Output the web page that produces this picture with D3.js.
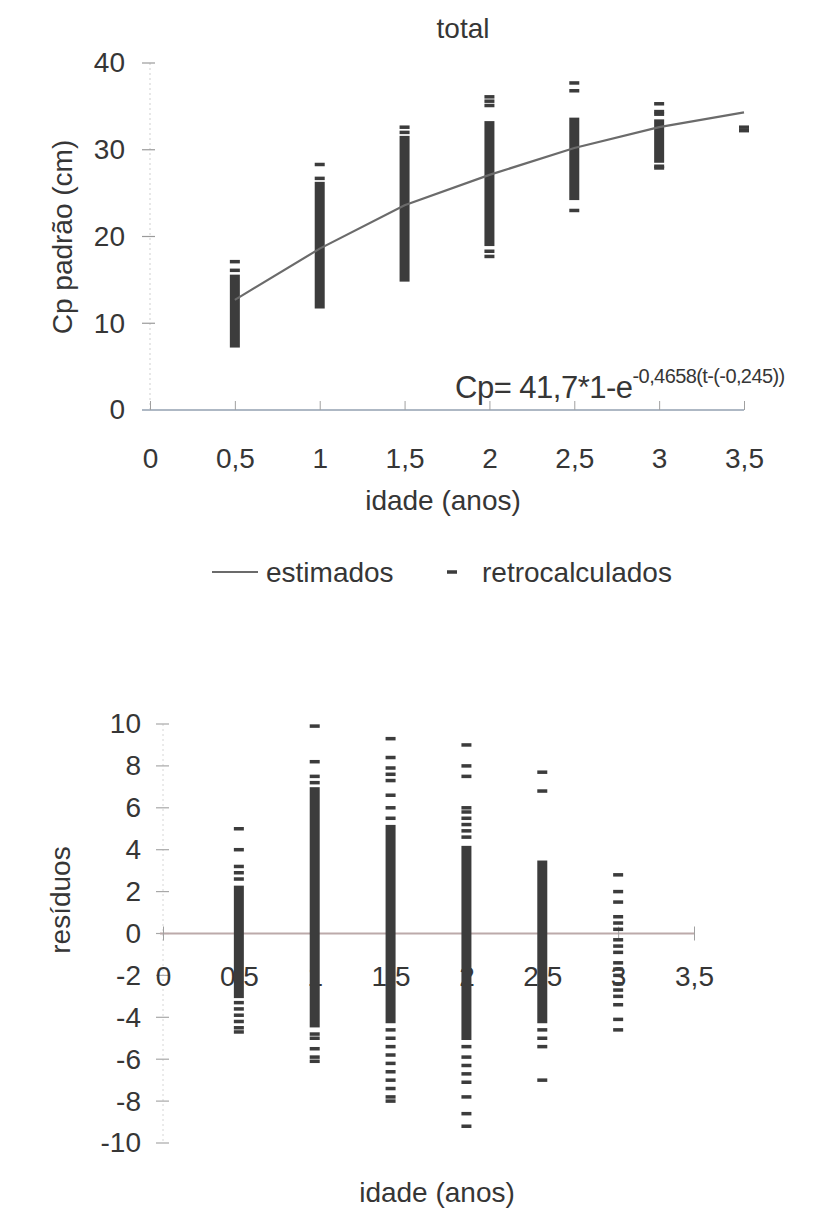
<!DOCTYPE html>
<html>
<head>
<meta charset="utf-8">
<script src="https://cdn.jsdelivr.net/npm/d3@7"></script>
<style>
  body { margin: 0; background: #fff; }
  svg text { font-family: "Liberation Sans", Arial, sans-serif; fill: #363636; }
</style>
</head>
<body>
<svg id="chart" width="818" height="1217"></svg>
<script>
// ages (anos)
const ages = [0.5, 1, 1.5, 2, 2.5, 3, 3.5];

// estimated standard length (von Bertalanffy curve)
const estimados = [12.7, 18.6, 23.6, 27.1, 30.2, 32.6, 34.3];

// back-calculated lengths: dense runs (low / high) and the separate dashes
const retroLo = [7.4, 11.9, 15.0, 19.1, 24.4, 28.7, null];
const retroHi = [15.4, 26.1, 31.4, 33.1, 33.5, 33.3, null];
const retroPts = [
  [16.1, 17.1],
  [26.7, 28.3],
  [32.0, 32.6],
  [17.7, 18.3, 35.1, 35.6, 36.1],
  [23.0, 36.8, 37.7],
  [27.9, 28.1, 34.1, 34.4, 35.3],
  [32.2, 32.6]
];

// residuals
const residAges = [0.5, 1, 1.5, 2, 2.5, 3];
const residLo = [-3.0, -4.4, -4.2, -5.0, -4.2, null];
const residHi = [2.2, 6.9, 5.1, 4.1, 3.4, null];
const residPts = [
  [5.0, 4.0, 3.2, 2.9, 2.6, -3.3, -3.6, -3.9, -4.2, -4.5, -4.7],
  [9.9, 8.2, 7.5, 7.2, -4.8, -5.0, -5.5, -5.9, -6.1],
  [9.3, 8.4, 7.9, 7.6, 7.3, 6.6, 6.0, 5.5, -4.6, -5.0, -5.4, -5.8, -6.2, -6.6, -7.0, -7.4, -7.8, -8.0],
  [9.0, 8.0, 7.5, 6.0, 5.8, 5.5, 5.2, 4.9, 4.6, -5.4, -5.9, -6.3, -6.7, -7.1, -7.8, -8.6, -9.2],
  [7.7, 6.8, -4.6, -5.0, -5.4, -7.0],
  [2.8, 2.0, 1.5, 0.8, 0.5, 0.2, -0.3, -0.6, -0.9, -1.4, -1.7, -2.0, -2.4, -2.7, -3.0, -3.4, -4.1, -4.6]
];

const xTicks = [0, 0.5, 1, 1.5, 2, 2.5, 3, 3.5];
const yTicksTop = [0, 10, 20, 30, 40];
const yTicksBottom = [-10, -8, -6, -4, -2, 0, 2, 4, 6, 8, 10];

const comma = d => String(d).replace(".", ",");
const markColor = "#3c3c3c";
const dashW = 10, dashH = 3.5;

const svg = d3.select("#chart");

// ---------- top chart ----------
const x1 = d3.scaleLinear().domain([0, 3.5]).range([150, 744]);
const y1 = d3.scaleLinear().domain([0, 40]).range([410, 63]);

svg.append("text")
  .attr("x", 463).attr("y", 38)
  .attr("text-anchor", "middle")
  .attr("font-size", 28)
  .text("total");

// y axis (faint dotted line + crossing ticks)
svg.append("line")
  .attr("x1", x1(0)).attr("x2", x1(0))
  .attr("y1", y1(40)).attr("y2", y1(0))
  .attr("stroke", "#cfcfcf").attr("stroke-dasharray", "2,3");

svg.append("g").selectAll("line").data(yTicksTop).join("line")
  .attr("x1", x1(0) - 8).attr("x2", x1(0) + 5)
  .attr("y1", d => y1(d)).attr("y2", d => y1(d))
  .attr("stroke", "#9a9a9a").attr("stroke-width", 1.2);

const yAxisTop = svg.append("g")
  .attr("transform", `translate(${x1(0)},0)`)
  .call(d3.axisLeft(y1).tickValues(yTicksTop).tickSize(0).tickPadding(25).tickFormat(comma));
yAxisTop.select(".domain").remove();
yAxisTop.selectAll("text").attr("font-size", 28).style("font-family", null);

// x axis
const xAxisTop = svg.append("g")
  .attr("transform", `translate(0,${y1(0)})`)
  .call(d3.axisBottom(x1).tickValues(xTicks).tickSizeInner(-9).tickSizeOuter(0).tickPadding(38).tickFormat(comma));
xAxisTop.select(".domain").attr("stroke", "#aeb8c4").attr("stroke-width", 2).attr("d", `M${x1(0) - 8},0H${x1(3.5)}`);
xAxisTop.selectAll(".tick line").attr("stroke", "#a0a0a0");
xAxisTop.selectAll("text").attr("font-size", 28).style("font-family", null);

svg.append("text")
  .attr("transform", "translate(72,237) rotate(-90)")
  .attr("text-anchor", "middle")
  .attr("font-size", 28)
  .text("Cp padrão (cm)");

svg.append("text")
  .attr("x", 443).attr("y", 510)
  .attr("text-anchor", "middle")
  .attr("font-size", 28)
  .text("idade (anos)");

// retrocalculados: dense runs
const topIdx = d3.range(ages.length).filter(i => retroLo[i] != null);
svg.append("g").selectAll("rect").data(topIdx).join("rect")
  .attr("x", i => x1(ages[i]) - dashW / 2)
  .attr("y", i => y1(retroHi[i]) - dashH / 2)
  .attr("width", dashW)
  .attr("height", i => y1(retroLo[i]) - y1(retroHi[i]) + dashH)
  .attr("fill", markColor);

// retrocalculados: separate dashes
const topPts = ages.flatMap((a, i) => retroPts[i].map(v => ({ age: a, v })));
svg.append("g").selectAll("rect").data(topPts).join("rect")
  .attr("x", d => x1(d.age) - dashW / 2)
  .attr("y", d => y1(d.v) - dashH / 2)
  .attr("width", dashW).attr("height", dashH)
  .attr("fill", markColor);

// estimados curve
svg.append("path")
  .datum(ages.map((a, i) => [a, estimados[i]]))
  .attr("fill", "none")
  .attr("stroke", "#6b6b6b")
  .attr("stroke-width", 2.2)
  .attr("d", d3.line().x(d => x1(d[0])).y(d => y1(d[1])));

// equation
const eq = svg.append("text")
  .attr("x", 455).attr("y", 398)
  .attr("font-size", 31)
  .attr("letter-spacing", -0.5);
eq.append("tspan").text("Cp= 41,7*1-e");
eq.append("tspan").attr("dy", -15).attr("font-size", 20).attr("letter-spacing", -0.6).text("-0,4658(t-(-0,245))");

// legend
svg.append("line")
  .attr("x1", 212).attr("x2", 258).attr("y1", 572).attr("y2", 572)
  .attr("stroke", "#6b6b6b").attr("stroke-width", 2);
svg.append("text").attr("x", 266).attr("y", 582).attr("font-size", 28).text("estimados");
svg.append("rect")
  .attr("x", 452 - dashW / 2).attr("y", 572 - dashH / 2)
  .attr("width", dashW).attr("height", dashH)
  .attr("fill", markColor);
svg.append("text").attr("x", 482).attr("y", 582).attr("font-size", 28).text("retrocalculados");

// ---------- bottom chart (residuos) ----------
const x2 = d3.scaleLinear().domain([0, 3.5]).range([163, 694]);
const y2 = d3.scaleLinear().domain([-10, 10]).range([1143, 724]);

svg.append("line")
  .attr("x1", x2(0)).attr("x2", x2(0))
  .attr("y1", y2(10)).attr("y2", y2(-10))
  .attr("stroke", "#d6d6d6").attr("stroke-dasharray", "2,3");

svg.append("g").selectAll("line").data(yTicksBottom).join("line")
  .attr("x1", x2(0) - 7).attr("x2", x2(0) + 6)
  .attr("y1", d => y2(d)).attr("y2", d => y2(d))
  .attr("stroke", "#a8a8a8").attr("stroke-width", 1.2);

const yAxisBot = svg.append("g")
  .attr("transform", `translate(${x2(0)},0)`)
  .call(d3.axisLeft(y2).tickValues(yTicksBottom).tickSize(0).tickPadding(22).tickFormat(comma));
yAxisBot.select(".domain").remove();
yAxisBot.selectAll("text").attr("font-size", 28).style("font-family", null);

const xAxisBot = svg.append("g")
  .attr("transform", `translate(0,${y2(0)})`)
  .call(d3.axisBottom(x2).tickValues(xTicks).tickSizeInner(7).tickSizeOuter(0).tickPadding(26).tickFormat(comma));
xAxisBot.select(".domain").attr("stroke", "#bcaaaa").attr("stroke-width", 2).attr("d", `M${x2(0) - 3},0H${x2(3.5)}`);
xAxisBot.selectAll(".tick line").attr("stroke", "#a0a0a0").attr("y1", -7);
xAxisBot.selectAll("text").attr("font-size", 28).style("font-family", null);

svg.append("text")
  .attr("transform", "translate(70,900) rotate(-90)")
  .attr("text-anchor", "middle")
  .attr("font-size", 28)
  .text("resíduos");

svg.append("text")
  .attr("x", 437).attr("y", 1202)
  .attr("text-anchor", "middle")
  .attr("font-size", 28)
  .text("idade (anos)");

const botIdx = d3.range(residAges.length).filter(i => residLo[i] != null);
svg.append("g").selectAll("rect").data(botIdx).join("rect")
  .attr("x", i => x2(residAges[i]) - dashW / 2)
  .attr("y", i => y2(residHi[i]) - dashH / 2)
  .attr("width", dashW)
  .attr("height", i => y2(residLo[i]) - y2(residHi[i]) + dashH)
  .attr("fill", markColor);

const botPts = residAges.flatMap((a, i) => residPts[i].map(v => ({ age: a, v })));
svg.append("g").selectAll("rect").data(botPts).join("rect")
  .attr("x", d => x2(d.age) - dashW / 2)
  .attr("y", d => y2(d.v) - dashH / 2)
  .attr("width", dashW).attr("height", dashH)
  .attr("fill", markColor);
</script>
</body>
</html>
